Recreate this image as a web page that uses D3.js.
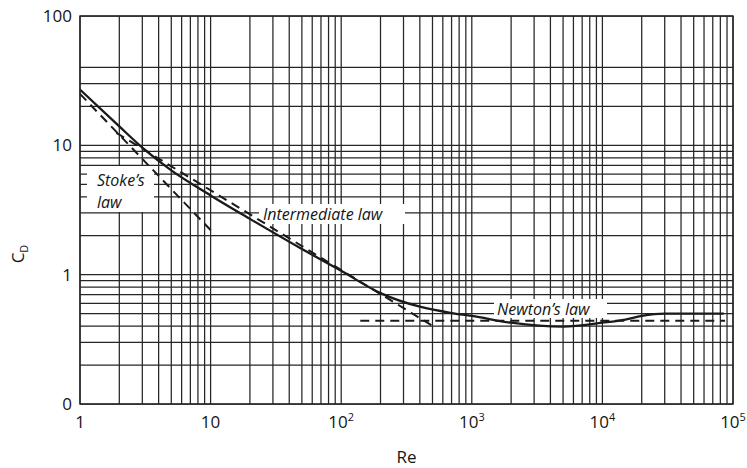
<!DOCTYPE html>
<html>
<head>
<meta charset="utf-8">
<script src="https://cdn.jsdelivr.net/npm/d3@7"></script>
<style>
  body { margin: 0; background: #fff; }
  svg { display: block; font-family: "Open Sans", "DejaVu Sans", sans-serif; }
  .grid line { stroke: #262626; stroke-width: 1.25; }
  .lbl { font-size: 17px; fill: #151515; }
  .law { font-size: 16px; font-style: italic; fill: #151515; }
  .curve { fill: none; stroke: #1a1a1a; stroke-width: 2.3; }
  .dash { fill: none; stroke: #1a1a1a; stroke-width: 2; stroke-dasharray: 9 6; }
</style>
</head>
<body>
<svg id="chart" width="747" height="468"></svg>
<script>
// Drag curve (solid): [Re, CD]
const dragCurve = [
  [1, 27], [2, 14], [3, 9.6], [5, 6.4], [10, 4.1], [20, 2.7], [50, 1.58],
  [100, 1.07], [200, 0.72], [400, 0.565], [700, 0.505], [1000, 0.48],
  [2000, 0.425], [5000, 0.396], [10000, 0.425], [15000, 0.45], [20000, 0.48],
  [30000, 0.5], [50000, 0.5], [85000, 0.5]
]
// Dashed laws: end points
const stokesLaw = [[1, 25], [10.5, 2.1]]
const intermediateLaw = [[1.9, 12.5], [505, 0.4]]
const newtonLaw = [[140, 0.44], [87000, 0.44]]

// Ticks
const xTicks = [1, 10, 100, 1e3, 1e4, 1e5]
const xTickLabels = [['1', ''], ['10', ''], ['10', '2'], ['10', '3'], ['10', '4'], ['10', '5']]
const yTicks = [0.1, 1, 10, 100]
const yTickLabels = ['0', '1', '10', '100']
const yGridTop = [20, 30, 40]   // upper decade only has a few lines

const margin = {left: 80, right: 14, top: 16, bottom: 64}
const W = 747, H = 468
const svg = d3.select('#chart')

const x = d3.scaleLog().domain([1, 1e5]).range([margin.left, W - margin.right])
const y = d3.scaleLog().domain([0.1, 100]).range([H - margin.bottom, margin.top])

// Grid values
let xGrid = []
for (let d = 0; d < 5; d++) for (let k = 1; k < 10; k++) xGrid.push(k * Math.pow(10, d))
xGrid.push(1e5)
let yGrid = []
for (let d = -1; d < 1; d++) for (let k = 1; k < 10; k++) yGrid.push(+(k * Math.pow(10, d)).toPrecision(3))
yGrid = yGrid.concat([10], yGridTop, [100])

const grid = svg.append('g').attr('class', 'grid')
grid.selectAll('.gx').data(xGrid).enter().append('line')
  .attr('x1', d => x(d)).attr('x2', d => x(d))
  .attr('y1', y(0.1)).attr('y2', y(100))
grid.selectAll('.gy').data(yGrid).enter().append('line')
  .attr('y1', d => y(d)).attr('y2', d => y(d))
  .attr('x1', x(1)).attr('x2', x(1e5))

// Tick labels
svg.selectAll('.xt').data(xTicks).enter().append('text')
  .attr('class', 'lbl')
  .attr('x', d => x(d)).attr('y', y(0.1) + 24)
  .attr('text-anchor', 'middle')
  .each(function(d, i) {
    const t = d3.select(this)
    t.append('tspan').text(xTickLabels[i][0])
    if (xTickLabels[i][1])
      t.append('tspan').attr('dy', -7).style('font-size', '11px').text(xTickLabels[i][1])
  })
svg.selectAll('.yt').data(yTicks).enter().append('text')
  .attr('class', 'lbl')
  .attr('x', x(1) - 8).attr('y', d => y(d) + 6)
  .attr('text-anchor', 'end')
  .text((d, i) => yTickLabels[i])

// Axis titles
svg.append('text').attr('class', 'lbl')
  .attr('x', (x(1) + x(1e5)) / 2) .attr('y', 463)
  .attr('text-anchor', 'middle').text('Re')
const yt = svg.append('text').attr('class', 'lbl')
  .attr('transform', 'translate(24,254) rotate(-90)')
  .attr('text-anchor', 'middle')
yt.append('tspan').text('C')
yt.append('tspan').attr('dy', 4).style('font-size', '11px').text('D')

// Label boxes (white, cut the grid)
const labels = [
  {lines: ['Stoke\u2019s', 'law'], x: 97, y: 186, box: [87, 166, 67, 46]},
  {lines: ['Intermediate law'], x: 263, y: 220, box: [259, 204, 146, 20]},
  {lines: ['Newton\u2019s law'], x: 497, y: 315, box: [494, 299, 113, 19]}
]
labels.forEach(l => {
  svg.append('rect').attr('x', l.box[0]).attr('y', l.box[1])
    .attr('width', l.box[2]).attr('height', l.box[3]).attr('fill', '#fff')
})

// Curves
const line = d3.line().x(d => x(d[0])).y(d => y(d[1]))
svg.append('path').attr('class', 'curve')
  .attr('d', line.curve(d3.curveMonotoneX)(dragCurve))
const straight = d3.line().x(d => x(d[0])).y(d => y(d[1]))
;[stokesLaw, intermediateLaw, newtonLaw].forEach(s => {
  svg.append('path').attr('class', 'dash').attr('d', straight(s))
})

// Label text (one text per line)
labels.forEach(l => {
  l.lines.forEach((s, i) => svg.append('text').attr('class', 'law')
    .attr('x', l.x).attr('y', l.y + i * 22).text(s))
})

// Frame
svg.append('rect').attr('x', x(1)).attr('y', y(100))
  .attr('width', x(1e5) - x(1)).attr('height', y(0.1) - y(100))
  .attr('fill', 'none').attr('stroke', '#262626').attr('stroke-width', 1.4)
</script>
</body>
</html>
